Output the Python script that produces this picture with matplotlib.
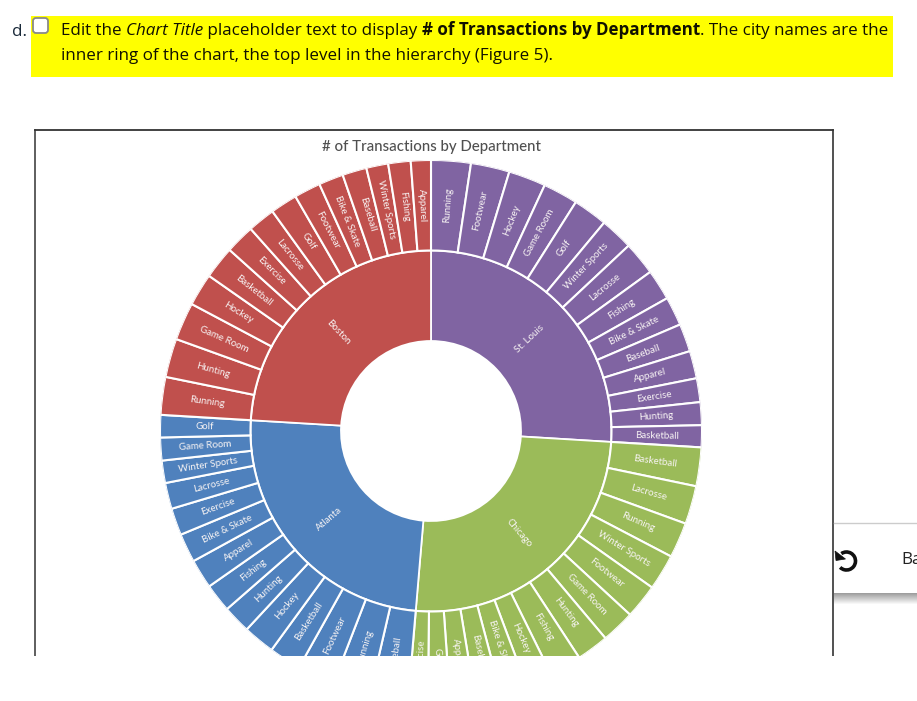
import numpy as np
import matplotlib
matplotlib.use("Agg")
import matplotlib.pyplot as plt
from matplotlib.patches import Rectangle, FancyBboxPatch, Arc, Polygon

W, H = 917, 701
CX, CY = 431, 431

title = "# of Transactions by Department"
cities = ["St. Louis", "Chicago", "Atlanta", "Boston"]
city_colors = ["#8064A2", "#9BBB59", "#4F81BD", "#C0504D"]

st_louis_depts = ["Running", "Footwear", "Hockey", "Game Room", "Golf", "Winter Sports", "Lacrosse",
                  "Fishing", "Bike & Skate", "Baseball", "Apparel", "Exercise", "Hunting", "Basketball"]
st_louis_vals = [85, 83, 80, 75, 74, 71, 72, 66, 62, 60, 59, 51, 49, 47]

chicago_depts = ["Basketball", "Lacrosse", "Running", "Winter Sports", "Footwear", "Game Room", "Hunting",
                 "Fishing", "Hockey", "Bike & Skate", "Baseball", "Apparel", "Golf", "Exercise"]
chicago_vals = [83, 82, 76, 77, 74, 72, 69, 69, 57, 57, 55, 53, 47, 42]

atlanta_depts = ["Baseball", "Running", "Footwear", "Basketball", "Hockey", "Hunting", "Fishing",
                 "Apparel", "Bike & Skate", "Exercise", "Lacrosse", "Winter Sports", "Game Room", "Golf"]
atlanta_vals = [82, 81, 80, 69, 68, 60, 61, 63, 62, 58, 56, 48, 49, 48]

boston_depts = ["Running", "Hunting", "Game Room", "Hockey", "Basketball", "Exercise", "Lacrosse",
                "Golf", "Footwear", "Bike & Skate", "Baseball", "Winter Sports", "Fishing", "Apparel"]
boston_vals = [81, 83, 81, 70, 70, 63, 59, 58, 57, 53, 52, 47, 48, 43]

all_depts = [st_louis_depts, chicago_depts, atlanta_depts, boston_depts]
all_vals = [st_louis_vals, chicago_vals, atlanta_vals, boston_vals]

FONT = "Open Sans"
LABEL_FONT = "Lato"

fig = plt.figure(figsize=(W / 100, H / 100), dpi=100, facecolor="white")

# page layer in pixel coordinates
bg = fig.add_axes([0, 0, 1, 1], zorder=0)
bg.set_xlim(0, W); bg.set_ylim(H, 0); bg.axis("off")
bg.add_patch(Rectangle((31, 16), 862, 61, fc="#FFFF00", ec="none"))
bg.add_patch(FancyBboxPatch((33, 18), 15, 15, boxstyle="round,pad=0,rounding_size=3",
                            fc="white", ec="#8a8a8a", lw=1.3))
bg.text(12, 36, "d.", fontsize=12.25, family=FONT, va="baseline", color="#1a2a3a")
renderer = fig.canvas.get_renderer()


def spans(x, y, parts):
    for s, kw in parts:
        t = bg.text(x, y, s, fontsize=12.25, family=FONT, va="baseline", color="#111100", **kw)
        x = bg.transData.inverted().transform(
            (t.get_window_extent(renderer).x1, 0))[0]


spans(61, 35, [("Edit the ", {}), ("Chart Title", {"style": "italic"}),
               (" placeholder text to display ", {}),
               ("# of Transactions by Department", {"weight": "bold"}),
               (". The city names are the", {})])
spans(61, 60, [("inner ring of the chart, the top level in the hierarchy (Figure 5).", {})])

bg.plot([35, 35], [130, 656], color="#333333", lw=1.1)
bg.plot([833, 833], [130, 656], color="#222222", lw=1.1)
bg.plot([35, 833], [130, 130], color="#333333", lw=1.3)
bg.text(431, 146.5, title, ha="center", va="center", fontsize=10.85, family=LABEL_FONT, color="#505050",
        weight="medium")

# sunburst
R = 271.0
ax = fig.add_axes([(CX - R) / W, 1 - (CY + R) / H, 2 * R / W, 2 * R / H], projection="polar", zorder=1)
ax.set_theta_zero_location("N"); ax.set_theta_direction(-1)
ax.set_ylim(0, R); ax.axis("off"); ax.patch.set_alpha(0)

total = sum(sum(v) for v in all_vals)
start = 0.0
for city, color, depts, vals in zip(cities, city_colors, all_depts, all_vals):
    span = sum(vals) / total * 2 * np.pi
    ax.bar(start + span / 2, 90.5, width=span, bottom=90, color=color, edgecolor="white", linewidth=1.3)
    deg = np.degrees(start + span / 2)
    rot = 90 - deg if deg < 180 else 270 - deg
    ax.text(start + span / 2, 135, city, rotation=rot, rotation_mode="anchor", ha="center", va="center",
            fontsize=7.0, family=LABEL_FONT, color="#F8F4F4")
    th = start
    for d, v in zip(depts, vals):
        w = v / total * 2 * np.pi
        ax.bar(th + w / 2, 90.5, width=w, bottom=180.5, color=color, edgecolor="white", linewidth=1.5)
        deg = np.degrees(th + w / 2)
        rot = 90 - deg if deg < 180 else 270 - deg
        ax.text(th + w / 2, 226, d, rotation=rot, rotation_mode="anchor", ha="center", va="center",
                fontsize=7.0, family=LABEL_FONT, color="#F8F4F4")
        th += w
    start += span

# crop and floating panel
top = fig.add_axes([0, 0, 1, 1], zorder=2)
top.set_xlim(0, W); top.set_ylim(H, 0); top.axis("off"); top.patch.set_alpha(0)
top.add_patch(Rectangle((0, 656), W, 45, fc="white", ec="none"))
top.plot([833.5, 917], [523, 523], color="#cccccc", lw=1)
top.imshow(np.linspace(0.62, 1, 12).reshape(-1, 1), extent=(833.5, 917, 605, 593), aspect="auto",
           cmap="gray", vmin=0, vmax=1)
top.set_xlim(0, W); top.set_ylim(H, 0)
top.add_patch(Arc((846.5, 561), 18, 18, theta1=-125, theta2=135, color="#111111", lw=2.6))
top.add_patch(Polygon([(835, 551), (836, 560.5), (845.5, 559)], fc="#111111", ec="#111111", lw=0.5))
top.text(901, 560, "Ba", fontsize=12.3, family=FONT, va="center", color="#222222")

fig.savefig("out.png", dpi=100)
